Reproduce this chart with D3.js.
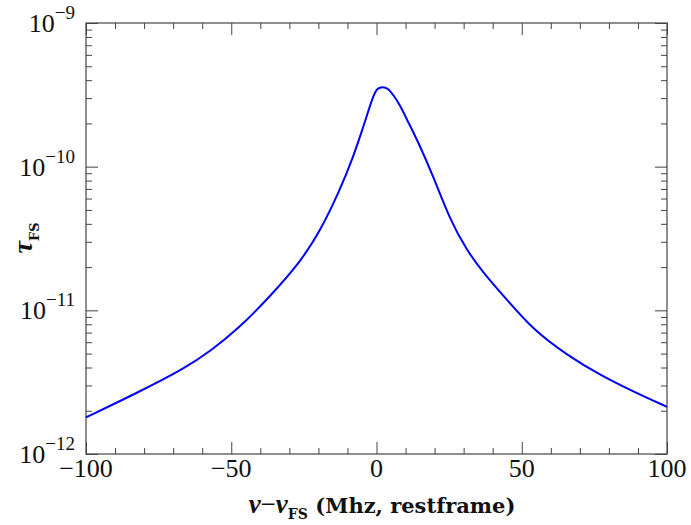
<!DOCTYPE html>
<html>
<head>
<meta charset="utf-8">
<script src="https://cdn.jsdelivr.net/npm/d3@7"></script>
<style>
  html, body { margin: 0; padding: 0; background: #fff; }
  svg { display: block; }
</style>
</head>
<body>
<svg id="chart" width="691" height="525"></svg>
<script>
// ---- data ----
const nu = [-100, -82.6, -65.6, -57, -48, -36.7, -26.3, -19.4, -12.6, -8, -4.5, -1.1, 0.3, 2.1, 3.9, 5.8, 8.1, 10.4, 14.2, 19.6, 25.3, 31, 36.8, 44.8, 54, 65.5, 76.9, 88.4, 100];
const tau = [1.80e-12, 2.65e-12, 3.98e-12, 5.25e-12, 7.3e-12, 1.245e-11, 2.16e-11, 3.55e-11, 6.88e-11, 1.17e-10, 1.90e-10, 3.15e-10, 3.53e-10, 3.60e-10, 3.53e-10, 3.15e-10, 2.69e-10, 2.14e-10, 1.51e-10, 8.51e-11, 4.27e-11, 2.63e-11, 1.82e-11, 1.19e-11, 7.3e-12, 4.9e-12, 3.55e-12, 2.72e-12, 2.13e-12];
const xMajorTicks = [-100, -50, 0, 50, 100];
const xMinorTicks = [-90, -80, -70, -60, -40, -30, -20, -10, 10, 20, 30, 40, 60, 70, 80, 90];
const xTickLabels = ["\u2212100", "\u221250", "0", "50", "100"];
const yDecadeExponents = [-12, -11, -10, -9];
const yMinorMultipliers = [2, 3, 4, 5, 6, 7, 8, 9];
const xDomain = [-100, 100];
const yDomain = [1e-12, 1e-9];

// ---- layout ----
const svg = d3.select("#chart");
const L = 86, R = 667, T = 23, B = 454;
const x = d3.scaleLinear().domain(xDomain).range([L, R]);
const y = d3.scaleLog().domain(yDomain).range([B, T]);

const axisColor = "#444";
const numFont = "'Liberation Serif', 'DejaVu Serif', serif";

const yMajor = yDecadeExponents.map(e => Math.pow(10, e));
const yMinor = [];
yDecadeExponents.slice(0, -1).forEach(e => yMinorMultipliers.forEach(m => yMinor.push(m * Math.pow(10, e))));

function styleAxis(g) {
  g.select(".domain").remove();
  g.selectAll(".tick line").attr("stroke", axisColor).attr("stroke-width", 1);
  g.selectAll(".tick text").remove();
}

// x axes bottom / top
svg.append("g").attr("transform", `translate(0,${B})`)
  .call(d3.axisBottom(x).tickValues(xMajorTicks).tickSize(-12).tickFormat("")).call(styleAxis);
svg.append("g").attr("transform", `translate(0,${B})`)
  .call(d3.axisBottom(x).tickValues(xMinorTicks).tickSize(-6).tickFormat("")).call(styleAxis);
svg.append("g").attr("transform", `translate(0,${T})`)
  .call(d3.axisTop(x).tickValues(xMajorTicks).tickSize(-12).tickFormat("")).call(styleAxis);
svg.append("g").attr("transform", `translate(0,${T})`)
  .call(d3.axisTop(x).tickValues(xMinorTicks).tickSize(-6).tickFormat("")).call(styleAxis);

// y axes left / right
svg.append("g").attr("transform", `translate(${L},0)`)
  .call(d3.axisLeft(y).tickValues(yMajor).tickSize(-12).tickFormat("")).call(styleAxis);
svg.append("g").attr("transform", `translate(${L},0)`)
  .call(d3.axisLeft(y).tickValues(yMinor).tickSize(-6).tickFormat("")).call(styleAxis);
svg.append("g").attr("transform", `translate(${R},0)`)
  .call(d3.axisRight(y).tickValues(yMajor).tickSize(-12).tickFormat("")).call(styleAxis);
svg.append("g").attr("transform", `translate(${R},0)`)
  .call(d3.axisRight(y).tickValues(yMinor).tickSize(-6).tickFormat("")).call(styleAxis);

// frame
svg.append("rect").attr("x", L).attr("y", T).attr("width", R - L).attr("height", B - T)
  .attr("fill", "none").attr("stroke", axisColor).attr("stroke-width", 1.2);

// x tick labels
svg.append("g").selectAll("text").data(xMajorTicks).join("text")
  .attr("x", d => x(d)).attr("y", B + 23)
  .attr("text-anchor", "middle")
  .attr("font-family", numFont).attr("font-size", 26).attr("fill", "#111")
  .text((d, i) => xTickLabels[i]);

// y tick labels 10^e
const yl = svg.append("g").selectAll("text").data(yDecadeExponents).join("text")
  .attr("x", 75).attr("y", d => y(Math.pow(10, d)) + 9)
  .attr("text-anchor", "end")
  .attr("font-family", numFont).attr("fill", "#111");
yl.append("tspan").attr("font-size", 26).text("10");
yl.append("tspan").attr("font-size", 19).attr("dy", -13).text(d => "\u2212" + Math.abs(d));

// curve
const line = d3.line().x((d, i) => x(nu[i])).y((d, i) => y(tau[i])).curve(d3.curveBasis);
svg.append("path").datum(nu).attr("d", line)
  .attr("fill", "none").attr("stroke", "#0000ff").attr("stroke-width", 2);

// x title
const titleFont = "'DejaVu Serif', serif";
const greekFont = "'Liberation Serif', serif";
const xt = svg.append("text").attr("x", 382).attr("y", 513).attr("text-anchor", "middle")
  .attr("font-family", titleFont).attr("font-weight", "bold").attr("font-size", 21).attr("fill", "#111");
xt.append("tspan").attr("font-family", greekFont).attr("font-style", "italic").attr("font-size", 27).text("\u03BD");
xt.append("tspan").attr("font-family", greekFont).attr("font-weight", "normal").attr("font-size", 27).text("\u2212");
xt.append("tspan").attr("font-family", greekFont).attr("font-style", "italic").attr("font-size", 27).text("\u03BD");
xt.append("tspan").attr("font-size", 14).attr("dy", 6).text("FS");
xt.append("tspan").attr("dy", -6).text(" (Mhz, restframe)");

// y title
const yt = svg.append("text").attr("transform", "translate(32,238) rotate(-90)")
  .attr("text-anchor", "middle")
  .attr("font-family", titleFont).attr("font-weight", "bold").attr("font-size", 22).attr("fill", "#111");
yt.append("tspan").attr("font-family", greekFont).attr("font-style", "italic").attr("font-size", 28).text("\u03C4");
yt.append("tspan").attr("font-size", 13).attr("dy", 7).text("FS");
</script>
</body>
</html>
